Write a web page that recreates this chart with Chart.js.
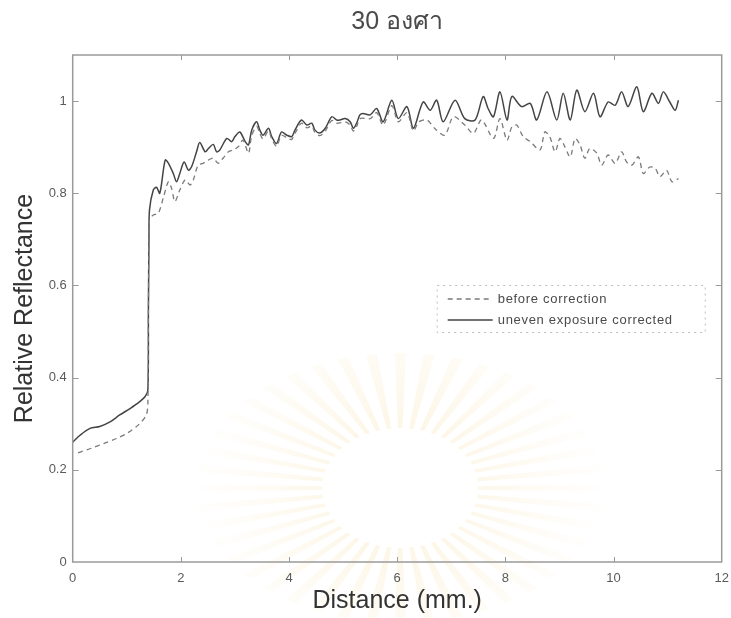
<!DOCTYPE html>
<html><head><meta charset="utf-8">
<script src="https://cdn.jsdelivr.net/npm/chart.js@4.4.1/dist/chart.umd.min.js"></script>
<style>html,body{margin:0;padding:0;background:#fff;}#wrap{width:731px;height:618px;}</style>
</head><body><div id="wrap"><canvas id="c" width="731" height="618"></canvas></div>
<script>
const titleText = '30 องศา';
const xAxisTitle = 'Distance (mm.)';
const yAxisTitle = 'Relative Reflectance';
const seriesNames = ['before correction', 'uneven exposure corrected'];
const xTicks = [0, 2, 4, 6, 8, 10, 12];
const yTicks = [0, 0.2, 0.4, 0.6, 0.8, 1];

const distBefore = [0.10,0.35,0.57,0.81,1.00,1.21,1.36,1.39,1.40,1.41,1.42,1.49,1.58,1.68,1.77,1.83,1.89,1.98,2.08,2.17,2.23,2.32,2.41,2.51,2.60,2.69,2.78,2.88,2.97,3.06,3.15,3.25,3.31,3.40,3.46,3.52,3.62,3.68,3.77,3.86,3.96,4.05,4.11,4.23,4.33,4.42,4.48,4.57,4.67,4.79,4.88,5.04,5.13,5.19,5.25,5.31,5.50,5.62,5.74,5.90,6.02,6.18,6.30,6.40,6.55,6.70,6.88,7.04,7.25,7.41,7.56,7.78,7.90,8.03,8.12,8.21,8.33,8.46,8.64,8.73,8.82,8.92,9.01,9.10,9.20,9.29,9.38,9.47,9.56,9.69,9.78,9.90,10.03,10.15,10.24,10.34,10.46,10.55,10.67,10.77,10.86,10.98,11.08,11.20];
const reflBefore = [0.237,0.247,0.257,0.268,0.279,0.297,0.319,0.345,0.55,0.70,0.742,0.753,0.756,0.792,0.825,0.81,0.782,0.807,0.829,0.818,0.829,0.861,0.865,0.872,0.876,0.865,0.876,0.89,0.894,0.901,0.915,0.887,0.925,0.945,0.93,0.918,0.935,0.918,0.902,0.926,0.92,0.917,0.93,0.952,0.942,0.946,0.932,0.925,0.935,0.958,0.952,0.955,0.948,0.935,0.945,0.962,0.962,0.975,0.948,0.99,0.955,0.975,0.935,0.955,0.959,0.94,0.926,0.966,0.948,0.93,0.959,0.919,0.962,0.915,0.944,0.948,0.923,0.912,0.894,0.933,0.923,0.89,0.919,0.901,0.879,0.919,0.905,0.876,0.897,0.887,0.861,0.883,0.865,0.89,0.868,0.861,0.879,0.843,0.857,0.854,0.836,0.85,0.825,0.832];

const distCorrected = [0.00,0.135,0.32,0.50,0.69,0.87,1.06,1.24,1.34,1.39,1.40,1.41,1.42,1.49,1.55,1.61,1.71,1.77,1.86,1.92,1.98,2.06,2.14,2.20,2.29,2.35,2.45,2.51,2.60,2.66,2.72,2.85,2.94,3.00,3.09,3.19,3.25,3.31,3.40,3.46,3.52,3.62,3.68,3.77,3.86,3.96,4.05,4.11,4.23,4.33,4.42,4.48,4.57,4.67,4.79,4.88,4.94,5.04,5.13,5.19,5.25,5.31,5.37,5.50,5.62,5.74,5.90,6.02,6.18,6.30,6.48,6.61,6.73,6.85,7.07,7.25,7.44,7.59,7.68,7.78,7.90,8.03,8.12,8.30,8.46,8.58,8.77,8.95,9.07,9.20,9.32,9.47,9.63,9.75,9.90,10.03,10.15,10.27,10.43,10.55,10.71,10.83,10.92,11.04,11.14,11.20];
const reflCorrected = [0.26,0.275,0.29,0.294,0.304,0.319,0.333,0.348,0.359,0.373,0.55,0.70,0.764,0.807,0.813,0.80,0.872,0.865,0.843,0.825,0.843,0.868,0.85,0.858,0.89,0.91,0.89,0.897,0.906,0.89,0.894,0.919,0.912,0.923,0.933,0.912,0.905,0.937,0.955,0.937,0.926,0.941,0.923,0.908,0.933,0.926,0.923,0.937,0.959,0.948,0.952,0.937,0.931,0.941,0.966,0.959,0.959,0.962,0.955,0.941,0.952,0.97,0.973,0.97,0.984,0.955,1.002,0.962,0.988,0.941,0.998,0.98,1.002,0.955,1.002,0.962,0.959,1.01,0.984,0.966,1.02,0.959,1.01,0.988,0.995,0.959,1.02,0.959,1.017,0.959,1.024,0.977,1.017,0.966,0.998,0.991,1.02,0.988,1.031,0.977,1.017,0.995,1.02,0.998,0.98,1.002];

const FONT = '"Liberation Sans", Arial, Helvetica, "Noto Sans", "DejaVu Sans", sans-serif';
const pts = (xs, ys) => xs.map((x, i) => ({x: x, y: ys[i]}));

const frameAndTicks = {
  id: 'frameAndTicks',
  beforeDraw(chart) {
    const ctx = chart.ctx;
    ctx.save();
    ctx.fillStyle = '#fff';
    ctx.fillRect(0, 0, chart.width, chart.height);
    // faint watermark sunburst
    const ca = chart.chartArea;
    const cx = (ca.left + ca.right) / 2 + 3, cy = ca.bottom - 74;
    const n = 44;
    for (let i = 0; i < n; i++) {
      const a = i * 2 * Math.PI / n;
      const d = 0.028;
      const r0 = 60, r1 = 135;
      const g = ctx.createRadialGradient(cx, cy, r0, cx, cy, r1 * 1.5);
      g.addColorStop(0, 'rgba(245,210,130,0.20)');
      g.addColorStop(1, 'rgba(250,232,190,0.03)');
      ctx.fillStyle = g;
      ctx.beginPath();
      ctx.moveTo(cx + Math.cos(a - d) * r0 * 1.3, cy + Math.sin(a - d) * r0);
      ctx.lineTo(cx + Math.cos(a - d) * r1 * 1.5, cy + Math.sin(a - d) * r1);
      ctx.lineTo(cx + Math.cos(a + d) * r1 * 1.5, cy + Math.sin(a + d) * r1);
      ctx.lineTo(cx + Math.cos(a + d) * r0 * 1.3, cy + Math.sin(a + d) * r0);
      ctx.closePath();
      ctx.fill();
    }
    ctx.restore();
  },
  afterDraw(chart) {
    const ctx = chart.ctx;
    const ca = chart.chartArea;
    const xs = chart.scales.x, ys = chart.scales.y;
    ctx.save();
    ctx.strokeStyle = '#9a9a9a';
    ctx.lineWidth = 1.5;
    ctx.setLineDash([]);
    ctx.strokeRect(ca.left, ca.top, ca.right - ca.left, ca.bottom - ca.top);
    ctx.lineWidth = 1;
    ctx.beginPath();
    xTicks.forEach(v => {
      if (v === 0 || v === 12) return;
      const p = Math.round(xs.getPixelForValue(v)) + 0.5;
      ctx.moveTo(p, ca.bottom); ctx.lineTo(p, ca.bottom - 5);
      ctx.moveTo(p, ca.top); ctx.lineTo(p, ca.top + 5);
    });
    yTicks.forEach(v => {
      if (v === 0) return;
      const p = Math.round(ys.getPixelForValue(v)) + 0.5;
      ctx.moveTo(ca.left, p); ctx.lineTo(ca.left + 6, p);
      ctx.moveTo(ca.right, p); ctx.lineTo(ca.right - 6, p);
    });
    ctx.stroke();
    // legend box
    const bx0 = ca.left + 364, by0 = ca.top + 230, bx1 = ca.left + 632, by1 = ca.top + 277;
    ctx.strokeStyle = '#bdbdbd';
    ctx.lineWidth = 1;
    ctx.setLineDash([2, 4]);
    ctx.strokeRect(bx0 + 0.5, by0 + 0.5, bx1 - bx0, by1 - by0);
    const ds = chart.data.datasets;
    const rows = [by0 + 14, by0 + 35];
    ds.forEach((d, i) => {
      ctx.strokeStyle = d.borderColor;
      ctx.lineWidth = d.borderWidth;
      ctx.setLineDash(d.borderDash || []);
      ctx.beginPath();
      ctx.moveTo(bx0 + 11, rows[i]); ctx.lineTo(bx0 + 56, rows[i]);
      ctx.stroke();
      ctx.setLineDash([]);
      ctx.fillStyle = '#4a4a4a';
      ctx.font = '13px ' + FONT;
      if ('letterSpacing' in ctx) ctx.letterSpacing = '0.7px';
      ctx.textBaseline = 'middle';
      ctx.textAlign = 'left';
      ctx.fillText(d.label, bx0 + 61, rows[i]);
    });
    ctx.restore();
  }
};

new Chart(document.getElementById('c'), {
  type: 'scatter',
  data: {
    datasets: [
      { label: seriesNames[0], data: pts(distBefore, reflBefore), showLine: true, pointRadius: 0,
        borderColor: '#7a7a7a', borderWidth: 1.3, borderDash: [5, 4], tension: 0.3 },
      { label: seriesNames[1], data: pts(distCorrected, reflCorrected), showLine: true, pointRadius: 0,
        borderColor: '#444444', borderWidth: 1.5, tension: 0.3 }
    ]
  },
  options: {
    responsive: false,
    animation: false,
    devicePixelRatio: 1,
    layout: { padding: { left: 0, right: 9.3, top: 0, bottom: 0 } },
    plugins: {
      legend: { display: false },
      tooltip: { enabled: false },
      title: { display: true, text: titleText, fullSize: false, color: '#4a4a4a',
        font: { size: 25, family: FONT, weight: 'normal' }, padding: { top: 7, bottom: 18 } }
    },
    scales: {
      x: {
        type: 'linear', min: 0, max: 12,
        afterBuildTicks: s => { s.ticks = xTicks.map(v => ({ value: v })); },
        afterFit: s => { s.height = 56; s.paddingRight = 0; s.paddingLeft = 0; },
        grid: { display: false, drawTicks: false },
        border: { display: false },
        ticks: { color: '#5a5a5a', font: { size: 13, family: FONT }, padding: 9, maxRotation: 0, autoSkip: false },
        title: { display: true, text: xAxisTitle, color: '#333', font: { size: 25, family: FONT }, padding: { top: 0, bottom: 2 } }
      },
      y: {
        type: 'linear', min: 0, max: 1.1,
        afterBuildTicks: s => { s.ticks = yTicks.map(v => ({ value: v })); },
        afterFit: s => { s.width = 72.7; s.paddingTop = 0; s.paddingBottom = 0; },
        grid: { display: false, drawTicks: false },
        border: { display: false },
        ticks: { color: '#5a5a5a', font: { size: 13, family: FONT }, padding: 6,
          callback: v => (v === 0 ? '0' : v === 1 ? '1' : v.toFixed(1)) },
        title: { display: true, text: yAxisTitle, color: '#333', font: { size: 25, family: FONT }, padding: { top: 10, bottom: 0 } }
      }
    }
  },
  plugins: [frameAndTicks]
});
</script>
</body></html>
